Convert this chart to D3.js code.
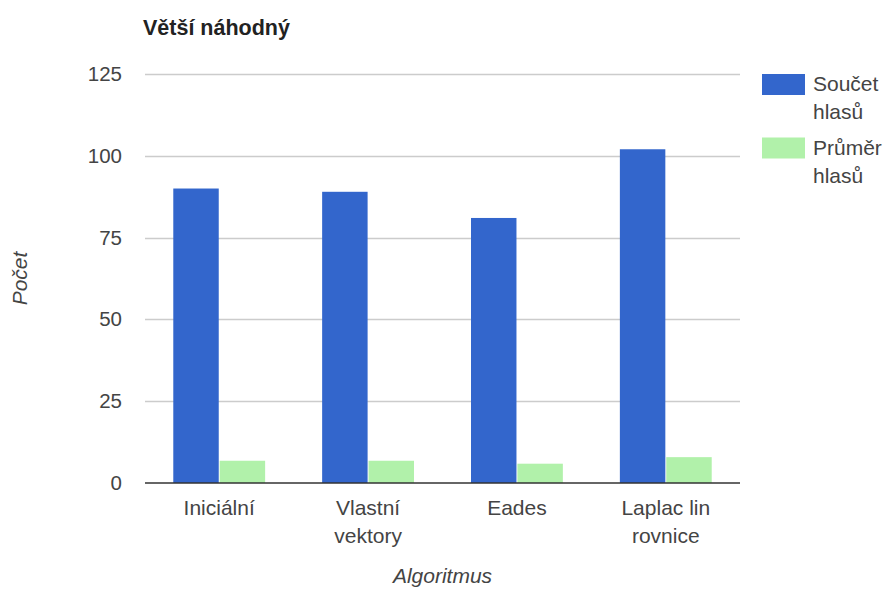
<!DOCTYPE html>
<html>
<head>
<meta charset="utf-8">
<script src="https://cdn.jsdelivr.net/npm/d3@7"></script>
<style>
  html, body { margin: 0; padding: 0; background: #fff; }
  svg { display: block; font-family: Arial, "Liberation Sans", sans-serif; }
</style>
</head>
<body>
<svg id="chart" width="887" height="592"></svg>
<script>
// Data
const categories = ["Iniciální", "Vlastní vektory", "Eades", "Laplac lin rovnice"];
const categoryLines = [["Iniciální"], ["Vlastní", "vektory"], ["Eades"], ["Laplac lin", "rovnice"]];
const seriesNames = ["Součet hlasů", "Průměr hlasů"];
const seriesLegendLines = [["Součet", "hlasů"], ["Průměr", "hlasů"]];
const soucetHlasu = [90, 89, 81, 102];
const prumerHlasu = [6.8, 6.8, 5.9, 7.9];
const yTicks = [0, 25, 50, 75, 100, 125];
const colors = ["#3366cc", "#b1f1aa"];

const FONT = 'Arial, "Liberation Sans", sans-serif';
const svg = d3.select("#chart");
const margin = { left: 145, right: 147, top: 74, bottom: 109 };
const W = 887, H = 592;
const plotW = W - margin.left - margin.right;
const plotH = H - margin.top - margin.bottom;

const x = d3.scaleBand().domain(categories).range([margin.left, margin.left + plotW]).paddingInner(0.383).paddingOuter(0.19);
const xs = d3.scaleBand().domain(seriesNames).range([0, x.bandwidth()]).paddingInner(0.02);
const y = d3.scaleLinear().domain([0, 125]).range([margin.top + plotH, margin.top]);

// Gridlines
svg.append("g").selectAll("line").data(yTicks.filter(t => t > 0)).join("line")
  .attr("x1", margin.left).attr("x2", margin.left + plotW)
  .attr("y1", d => Math.round(y(d)) + 0.5).attr("y2", d => Math.round(y(d)) + 0.5)
  .attr("stroke", "#cccccc").attr("stroke-width", 1.3);

// Y axis labels
const yAxis = d3.axisLeft(y).tickValues(yTicks).tickSize(0).tickPadding(23);
const gy = svg.append("g").attr("transform", `translate(${margin.left},0)`).call(yAxis);
gy.select(".domain").remove();
gy.selectAll("text").attr("font-size", 20.5).attr("fill", "#444").attr("font-family", FONT);

// Bars
const rows = categories.map((c, i) => ({ cat: c, vals: [soucetHlasu[i], prumerHlasu[i]] }));
const groups = svg.append("g").selectAll("g").data(rows).join("g")
  .attr("transform", d => `translate(${x(d.cat)},0)`);
groups.selectAll("rect").data(d => d.vals.map((v, j) => ({ v, s: seriesNames[j], j }))).join("rect")
  .attr("x", d => xs(d.s))
  .attr("width", xs.bandwidth())
  .attr("y", d => y(d.v))
  .attr("height", d => y(0) - y(d.v))
  .attr("fill", d => colors[d.j]);

// Baseline
svg.append("line")
  .attr("x1", margin.left).attr("x2", margin.left + plotW)
  .attr("y1", y(0)).attr("y2", y(0))
  .attr("stroke", "#333").attr("stroke-width", 1.3);

// X category labels
const xl = svg.append("g").selectAll("text").data(categoryLines).join("text")
  .attr("text-anchor", "middle")
  .attr("font-size", 21).attr("fill", "#444")
  .attr("x", (d, i) => x(categories[i]) + x.bandwidth() / 2)
  .attr("y", y(0) + 32);
xl.selectAll("tspan").data(d => d).join("tspan")
  .attr("x", function () { return d3.select(this.parentNode).attr("x"); })
  .attr("dy", (d, i) => i === 0 ? 0 : 28)
  .text(d => d);

// Axis titles
svg.append("text")
  .attr("x", margin.left + plotW / 2).attr("y", 583)
  .attr("text-anchor", "middle").attr("font-size", 21).attr("font-style", "italic").attr("fill", "#444")
  .text("Algoritmus");
svg.append("text")
  .attr("transform", `translate(27,${margin.top + plotH / 2}) rotate(-90)`)
  .attr("text-anchor", "middle").attr("font-size", 21).attr("font-style", "italic").attr("fill", "#444")
  .text("Počet");

// Title
svg.append("text")
  .attr("x", 143).attr("y", 35)
  .attr("font-size", 21.5).attr("font-weight", "bold").attr("fill", "#222")
  .text("Větší náhodný");

// Legend
const legend = svg.append("g").selectAll("g").data(seriesLegendLines).join("g")
  .attr("transform", (d, i) => `translate(762,${74 + i * 63.5})`);
legend.append("rect").attr("width", 43).attr("height", 21).attr("fill", (d, i) => colors[i]);
const lt = legend.append("text").attr("x", 51).attr("y", 17)
  .attr("font-size", 21).attr("fill", "#444");
lt.selectAll("tspan").data(d => d).join("tspan")
  .attr("x", 51).attr("dy", (d, i) => i === 0 ? 0 : 28).text(d => d);
</script>
</body>
</html>
